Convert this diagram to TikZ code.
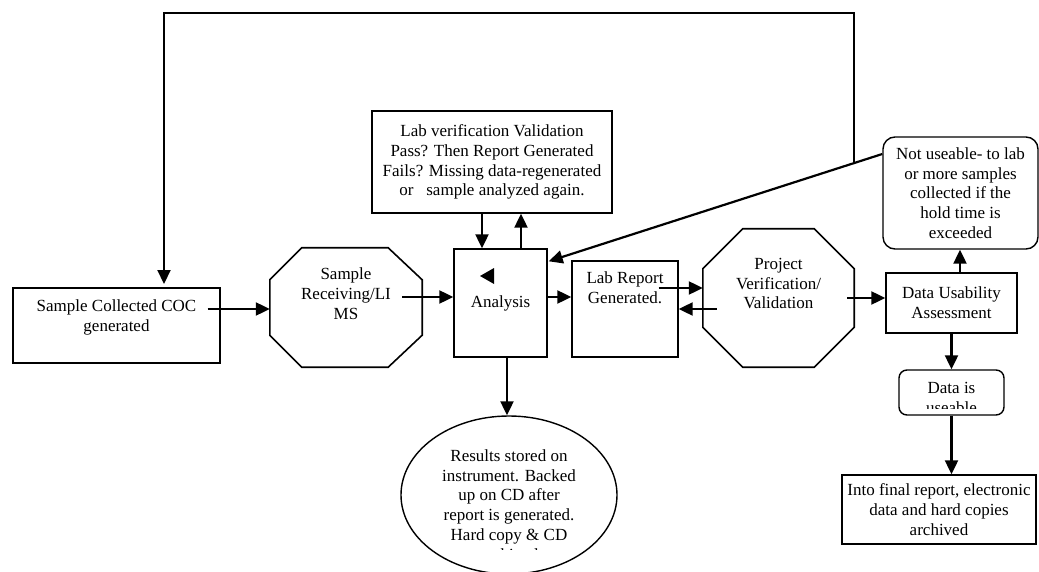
\documentclass[tikz,border=0pt]{standalone}
\usepackage{fontspec}
\setmainfont{Liberation Serif}
\usetikzlibrary{arrows.meta,shapes.geometric}

\begin{document}
\begin{tikzpicture}[x=1pt,y=-1pt,
  every node/.style={font=\fontsize{17}{19.8}\selectfont,align=center},
  box/.style={draw,line width=1.4pt,inner sep=0pt},
  rbox/.style={box,rounded corners=12pt},
  octa/.style={inner sep=0pt},
  octaline/.style={line width=1.6pt,line join=miter},
  toptext/.style={anchor=north,inner sep=0pt,yshift=-#1},
  arr/.style={line width=2.2pt,-{Triangle[length=14pt,width=13pt]}}]
\useasboundingbox (0,0) rectangle (1039,572);

\node[box,minimum width=207pt,minimum height=75pt,
  label={[toptext=12pt]north:Sample Collected COC\\generated}] (coll) at (116.5,325.5) {};
\node[octa,minimum width=152pt,minimum height=119pt,
  label={[toptext=20pt]north:Sample\\Receiving/LI\\MS}] (recv) at (346,307.5) {};
\node[box,minimum width=93pt,minimum height=108pt] (anal) at (500.5,303) {Analysis};
\node[box,minimum width=240pt,minimum height=102pt] (verif) at (492,162)
  {Lab verification Validation\\Pass? Then Report Generated\\Fails? Missing data-regenerated\\or\ \ \ sample analyzed again.};
\node[box,minimum width=106pt,minimum height=96pt,
  label={[toptext=11pt]north:Lab Report\\Generated.}] (report) at (625,309) {};
\node[octa,minimum width=151pt,minimum height=138pt,
  label={[toptext=29pt]north:Project\\Verification/\\Validation}] (proj) at (778.5,298) {};
\node[box,minimum width=131pt,minimum height=60pt] (usab) at (951.5,303) {Data Usability\\Assessment};
\node[rbox,minimum width=155pt,minimum height=112pt] (notuse) at (960.5,193)
  {Not useable- to lab\\or more samples\\collected if the\\hold time is\\exceeded};
\node[rbox,rounded corners=8pt,minimum width=105pt,minimum height=45pt] (useable) at (951.5,392.5) {};
\node[box,minimum width=194pt,minimum height=69pt] (final) at (939,509.5)
  {Into final report, electronic\\data and hard copies\\archived};
\node[box,ellipse,minimum width=216pt,minimum height=158pt] (store) at (509,495) {};

% octagon outlines
\draw[octaline] ([xshift=32pt]recv.north west) -- ([xshift=-34pt]recv.north east)
  -- ([yshift=-32pt]recv.north east) -- ([yshift=32pt]recv.south east)
  -- ([xshift=-34pt]recv.south east) -- ([xshift=32pt]recv.south west)
  -- ([yshift=32pt]recv.south west) -- ([yshift=-32pt]recv.north west) -- cycle;
\draw[octaline] ([xshift=40pt]proj.north west) -- ([xshift=-40pt]proj.north east)
  -- ([yshift=-40pt]proj.north east) -- ([yshift=40pt]proj.south east)
  -- ([xshift=-40pt]proj.south east) -- ([xshift=40pt]proj.south west)
  -- ([yshift=40pt]proj.south west) -- ([yshift=-40pt]proj.north west) -- cycle;

% texts cut off at the bottom
\begin{scope}
\clip (useable.north west) rectangle ([yshift=7pt]useable.south east);
\node (useabletext) at (951.5,398) {Data is\\useable};
\end{scope}
\begin{scope}
\clip (401,416) rectangle (617,549);
\node (storetext) at (509,505) {Results stored on\\instrument. Backed\\up on CD after\\report is generated.\\Hard copy \& CD\\archived};
\end{scope}

% stray arrow head in the analysis box
\fill (480,276) -- (494,268) -- (494,284) -- cycle;

\coordinate (c1) at ([xshift=-13pt,yshift=16.5pt]coll.east);
\coordinate (c2) at ([xshift=-20pt,yshift=10.5pt]recv.east);
\coordinate (c3) at ([xshift=-10pt]verif.south);
\coordinate (c4) at ([xshift=20.5pt]anal.north);
\coordinate (c5) at ([yshift=6pt]anal.east);
\coordinate (c6) at ([xshift=-20pt,yshift=21pt]report.east);
\coordinate (c7) at ([xshift=14pt,yshift=-11pt]proj.west);
\coordinate (c8) at ([xshift=-7pt]proj.east);
\coordinate (c9) at ([xshift=8.5pt]usab.north);
\coordinate (c10) at ([xshift=6.5pt]anal.south);
\coordinate (c11) at ([yshift=39pt]notuse.west);
\coordinate (c12) at ([yshift=-13pt,xshift=1pt]anal.north east);
\coordinate (topl) at (164,13);
\coordinate (fbend) at (164,284);

\draw[arr] (c1) -- (c1 -| recv.west);
\draw[arr] (c2) -- (c2 -| anal.west);
\draw[arr] (c3) -- (c3 |- anal.north);
\draw[arr] (c4) -- (c4 |- verif.south);
\draw[arr] (c5) -- (c5 -| report.west);
\draw[arr] (c6) -- (c6 -| proj.west);
\draw[arr] (c7) -- (c7 -| report.east);
\draw[arr] (c8) -- (c8 -| usab.west);
\draw[arr] (c9) -- (c9 |- notuse.south);
\draw[arr] (usab.south) -- (useable.north);
\draw[arr] (useable.south) -- (useable.south |- final.north);
\draw[arr] (c10) -- (c10 |- store.north);
\draw[arr] (c11) -- (c12) coordinate[pos=0.084] (fb);
\draw[arr] (fb) |- (topl) -- (fbend);
\end{tikzpicture}
\end{document}
